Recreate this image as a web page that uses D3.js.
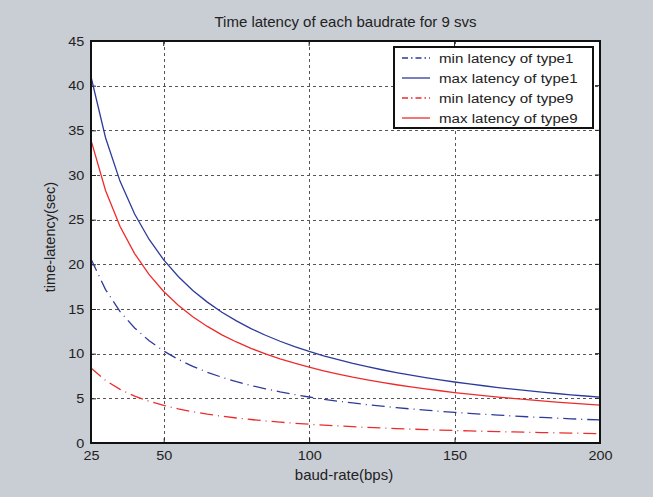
<!DOCTYPE html>
<html><head><meta charset="utf-8">
<script src="https://cdn.jsdelivr.net/npm/d3@7"></script>
<style>
html,body{margin:0;padding:0;background:#c9cdd4;}
svg{display:block;}
text{font-family:"Liberation Sans",Arial,Helvetica,sans-serif;fill:#222;}
</style></head>
<body>
<svg id="chart" width="653" height="497"></svg>
<script>
const title = "Time latency of each baudrate for 9 svs";
const xLabel = "baud-rate(bps)";
const yLabel = "time-latency(sec)";
const xTicks = [25, 50, 100, 150, 200];
const yTicks = [0, 5, 10, 15, 20, 25, 30, 35, 40, 45];
const baud = [25,30,35,40,45,50,55,60,65,70,75,80,85,90,95,100,105,110,115,120,125,130,135,140,145,150,155,160,165,170,175,180,185,190,195,200];
const minType1 = [20.6,17.17,14.71,12.88,11.44,10.3,9.36,8.58,7.92,7.36,6.87,6.44,6.06,5.72,5.42,5.15,4.9,4.68,4.48,4.29,4.12,3.96,3.81,3.68,3.55,3.43,3.32,3.22,3.12,3.03,2.94,2.86,2.78,2.71,2.64,2.58];
const maxType1 = [41.0,34.17,29.29,25.63,22.78,20.5,18.64,17.08,15.77,14.64,13.67,12.81,12.06,11.39,10.79,10.25,9.76,9.32,8.91,8.54,8.2,7.88,7.59,7.32,7.07,6.83,6.61,6.41,6.21,6.03,5.86,5.69,5.54,5.39,5.26,5.13];
const minType9 = [8.4,7.0,6.0,5.25,4.67,4.2,3.82,3.5,3.23,3.0,2.8,2.63,2.47,2.33,2.21,2.1,2.0,1.91,1.83,1.75,1.68,1.62,1.56,1.5,1.45,1.4,1.35,1.31,1.27,1.24,1.2,1.17,1.14,1.11,1.08,1.05];
const maxType9 = [33.9,28.27,24.23,21.2,18.84,16.96,15.42,14.13,13.05,12.11,11.31,10.6,9.98,9.42,8.93,8.48,8.08,7.71,7.37,7.07,6.78,6.52,6.28,6.06,5.85,5.65,5.47,5.3,5.14,4.99,4.85,4.71,4.58,4.46,4.35,4.24];
const seriesNames = ["min latency of type1","max latency of type1","min latency of type9","max latency of type9"];
const seriesValues = [minType1, maxType1, minType9, maxType9];
const seriesColors = ["#2e3a9a","#2e3a9a","#ee2b2b","#ee2b2b"];
const seriesDash = ["13,5,1,5", null, "13,5,1,5", null];

const svg = d3.select("#chart");
const L = 91, R = 600, T = 41, B = 443;
const x = d3.scaleLinear().domain([25, 200]).range([L, R]);
const y = d3.scaleLinear().domain([0, 45]).range([B, T]);

svg.append("rect").attr("x", L).attr("y", T).attr("width", R - L).attr("height", B - T).attr("fill", "#fff");

// grid
const grid = svg.append("g").attr("stroke", "#555").attr("stroke-width", 1).attr("stroke-dasharray", "3,3");
xTicks.slice(1, -1).forEach(v => grid.append("line").attr("x1", Math.round(x(v)) + 0.5).attr("x2", Math.round(x(v)) + 0.5).attr("y1", T).attr("y2", B));
yTicks.slice(1, -1).forEach(v => grid.append("line").attr("y1", Math.round(y(v)) + 0.5).attr("y2", Math.round(y(v)) + 0.5).attr("x1", L).attr("x2", R));

// axes
const xAxis = d3.axisBottom(x).tickValues(xTicks).tickSizeInner(-5).tickSizeOuter(0).tickPadding(8);
const yAxis = d3.axisLeft(y).tickValues(yTicks).tickSizeInner(-5).tickSizeOuter(0).tickPadding(6);
const gx = svg.append("g").attr("transform", `translate(0,${B})`).call(xAxis);
const gy = svg.append("g").attr("transform", `translate(${L},0)`).call(yAxis);
[gx, gy].forEach(g => {
  g.select(".domain").remove();
  g.selectAll(".tick line").attr("stroke", "#222");
  g.selectAll(".tick text").style("font-size", "13px").attr("fill", "#222")
    .style("font-family", "'Liberation Sans',Arial,sans-serif")
    .attr("transform", "scale(1.11,1)");
});
// top/right tick marks
const gt = svg.append("g").attr("stroke", "#222");
xTicks.forEach(v => gt.append("line").attr("x1", x(v)).attr("x2", x(v)).attr("y1", T).attr("y2", T + 5));
yTicks.forEach(v => gt.append("line").attr("y1", y(v)).attr("y2", y(v)).attr("x1", R).attr("x2", R - 5));

// lines
const line = d3.line().x((d, i) => x(baud[i])).y(d => y(d));
seriesValues.forEach((vals, k) => {
  svg.append("path").datum(vals).attr("d", line).attr("fill", "none")
    .attr("stroke", seriesColors[k]).attr("stroke-width", 1.3)
    .attr("stroke-dasharray", seriesDash[k]);
});

// frame
svg.append("rect").attr("x", L).attr("y", T).attr("width", R - L).attr("height", B - T)
  .attr("fill", "none").attr("stroke", "#111").attr("stroke-width", 2);

// legend
const lg = svg.append("g");
lg.append("rect").attr("x", 394).attr("y", 47).attr("width", 199).attr("height", 81)
  .attr("fill", "#fff").attr("stroke", "#111").attr("stroke-width", 2);
seriesNames.forEach((n, k) => {
  const yy = 58 + k * 20;
  lg.append("line").attr("x1", 402).attr("x2", 430).attr("y1", yy).attr("y2", yy)
    .attr("stroke", seriesColors[k]).attr("stroke-width", 1.3).attr("stroke-dasharray", seriesDash[k] ? "6,3,1.5,3" : null);
  lg.append("text").attr("transform", `translate(439,${yy}) scale(1.12,1)`).attr("dy", "0.35em")
    .style("font-size", "13.5px").text(n);
});

// titles
svg.append("text").attr("x", (L + R) / 2).attr("y", 27).attr("text-anchor", "middle").style("font-size", "15px").text(title);
svg.append("text").attr("x", 344).attr("y", 480).attr("text-anchor", "middle").style("font-size", "15px").text(xLabel);
svg.append("text").attr("transform", `translate(55,237) rotate(-90)`).attr("text-anchor", "middle").style("font-size", "14.5px").text(yLabel);
</script>
</body></html>
